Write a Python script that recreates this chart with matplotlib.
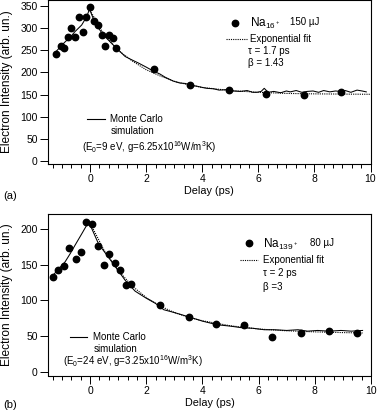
import matplotlib
matplotlib.use("Agg")
import matplotlib.pyplot as plt
from matplotlib.ticker import MultipleLocator

plt.rcParams['font.family'] = ['Liberation Sans', 'DejaVu Sans']
plt.rcParams['mathtext.fontset'] = 'custom'
plt.rcParams['mathtext.rm'] = 'Liberation Sans'
plt.rcParams['mathtext.default'] = 'regular'

# ---- Panel (a): Na16+ ----
a_x = [-1.21, -1.05, -0.93, -0.80, -0.68, -0.54, -0.39, -0.26, -0.14, 0.0,
       0.14, 0.27, 0.42, 0.55, 0.67, 0.81, 0.93, 2.27, 3.57, 4.94, 6.29, 7.62, 8.96]
a_y = [241, 260, 256, 279, 301, 279, 326, 291, 326, 348,
       317, 306, 284, 260, 284, 278, 255, 207, 172, 160, 151, 150, 155]

a_mc_x = [-1.2, -1.0, -0.89, -0.7, -0.54, -0.3, -0.12, -0.02, 0.18, 0.48, 0.89, 1.25,
          1.5, 1.73, 2.0, 2.2, 2.5, 2.68, 2.98, 3.2, 3.4, 3.57, 3.8, 4.0, 4.17, 4.4,
          4.6, 4.88, 5.1, 5.36, 5.6, 5.8, 5.95, 6.1, 6.21, 6.35, 6.55, 6.8, 7.0, 7.14,
          7.35, 7.55, 7.74, 7.95, 8.15, 8.33, 8.55, 8.75, 8.93, 9.1, 9.3, 9.52, 9.7, 9.85]
a_mc_y = [248, 262, 269, 280, 292, 307, 326, 343, 311, 284, 258, 236,
          228, 221, 212, 205, 196, 189, 180, 176, 175, 171, 169, 166, 164, 163,
          160, 161, 158, 157, 159, 155, 155, 157, 164, 155, 157, 154, 158, 156,
          159, 155, 157, 158, 155, 159, 156, 158, 157, 159, 155, 160, 158, 156]

a_fit_x = [0, 0.5, 1, 1.5, 2, 2.5, 3, 3.5, 4, 5, 6, 7, 8, 9, 10]
a_fit_y = [340, 285, 250, 226, 206, 192, 180, 172, 166, 159, 155, 152.5, 151.5, 151, 150.5]

# ---- Panel (b): Na139+ ----
b_x = [-1.33, -1.13, -0.93, -0.74, -0.52, -0.32, -0.13, 0.07, 0.27, 0.48, 0.67,
       0.87, 1.07, 1.27, 1.46, 2.48, 3.51, 4.49, 5.49, 6.49, 7.5, 8.5, 9.5]
b_y = [133, 142, 148, 173, 158, 167, 210, 207, 176, 150, 165,
       153, 143, 122, 123, 94, 77, 67, 66, 49, 54, 57, 55]

b_mc_x = [-1.37, -1.1, -0.89, -0.7, -0.54, -0.3, -0.05, 0.3, 0.77, 1.25, 1.6, 2.0,
          2.32, 2.62, 3.0, 3.51, 4.0, 4.52, 5.0, 5.36, 5.8, 6.2, 6.55, 7.0, 7.4,
          7.74, 8.1, 8.5, 8.93, 9.3, 9.7]
b_mc_y = [133, 145, 154, 166, 177, 193, 210, 179, 154, 128, 113, 103,
          96, 87, 83, 77, 71, 66, 64, 62, 61, 59, 59, 58, 59,
          57, 58, 57, 58, 57, 58]

b_fit_x = [0, 0.5, 1, 1.5, 2, 2.5, 3, 3.5, 4, 5, 6, 7, 8, 9, 9.7]
b_fit_y = [208, 170, 142, 120, 104, 92, 83, 76.5, 71.5, 64.5, 60, 57.5, 56, 55, 54.5]

W, H = 378, 415
fig = plt.figure(figsize=(W / 100, H / 100), dpi=100)
tr = fig.transFigure


def fx(x):
    return x / W


def fy(y):
    return 1 - y / H


def px_axes(left, top, right, bottom):
    return fig.add_axes([left / W, 1 - bottom / H, (right - left) / W, (bottom - top) / H])


def style(ax, ylim, ymajor, left_px):
    ax.set_xlim(-1.5, 10)
    ax.set_ylim(*ylim)
    ax.xaxis.set_major_locator(MultipleLocator(2))
    ax.xaxis.set_minor_locator(MultipleLocator(1 / 3))
    ax.yaxis.set_major_locator(MultipleLocator(ymajor))
    ax.tick_params(axis='both', which='major', direction='out', length=5.8, width=0.7,
                   labelsize=7.5, pad=1.5)
    ax.tick_params(axis='x', which='minor', direction='out', length=2.8, width=0.7)
    ax.tick_params(top=False, right=False)
    for s in ax.spines.values():
        s.set_linewidth(0.8)
    ax.set_xlabel('Delay (ps)', fontsize=7.8, labelpad=1.5)
    ax.set_ylabel('Electron Intensity (arb. un.)', fontsize=8.6)
    # baseline side of the rotated y label a few px from the left edge
    w = ax.get_position().width * W
    ax.yaxis.set_label_coords((13 - left_px) / w, 0.5)


def marker_sample(x, y):
    fig.lines.append(plt.Line2D([fx(x)], [fy(y)], marker='o', color='black', ms=4.6,
                                transform=tr))


def line_sample(x0, x1, y, dotted=False):
    fig.lines.append(plt.Line2D([fx(x0), fx(x1)], [fy(y), fy(y)], color='black', lw=0.8,
                                ls=(0, (1, 1)) if dotted else '-', transform=tr))


FS = 7

# ---- Top panel ----
ax1 = px_axes(48, 0, 370.5, 164)
ax1.plot(a_mc_x, a_mc_y, color='black', lw=0.75)
ax1.plot(a_fit_x, a_fit_y, color='black', lw=0.8, ls=(0, (1, 1)))
ax1.plot(a_x, a_y, 'o', color='black', ms=4.6)
style(ax1, (-7, 363.6), 50, 48)

marker_sample(235, 23)
fig.text(fx(250), fy(23), 'Na$_{16^+}$', fontsize=8.5, va='center', ha='left')
fig.text(fx(290), fy(22), '150 \u00b5J', fontsize=FS, va='center', ha='left')
line_sample(226, 247, 39, dotted=True)
fig.text(fx(250), fy(39), 'Exponential fit', fontsize=FS, va='center', ha='left')
fig.text(fx(248), fy(51.5), '\u03c4 = 1.7 ps', fontsize=FS, va='center', ha='left')
fig.text(fx(248), fy(63.5), '\u03b2 = 1.43', fontsize=FS, va='center', ha='left')

line_sample(87, 105, 119)
fig.text(fx(110), fy(119), 'Monte Carlo', fontsize=FS, va='center', ha='left')
fig.text(fx(133), fy(130.5), 'simulation', fontsize=FS, va='center', ha='center')
fig.text(fx(82), fy(147), '(E$_0$=9 eV, g=6.25x10$^{16}$W/m$^3$K)', fontsize=FS,
         va='center', ha='left')
fig.text(fx(3), fy(196), '(a)', fontsize=8, va='center', ha='left')

# ---- Bottom panel ----
ax2 = px_axes(48, 214.3, 371, 375.5)
ax2.plot(b_mc_x, b_mc_y, color='black', lw=0.75)
ax2.plot(b_fit_x, b_fit_y, color='black', lw=0.8, ls=(0, (1, 1)))
ax2.plot(b_x, b_y, 'o', color='black', ms=4.6)
style(ax2, (-5, 220.4), 50, 48)

marker_sample(249, 243.5)
fig.text(fx(263), fy(244), 'Na$_{139^+}$', fontsize=8.5, va='center', ha='left')
fig.text(fx(310), fy(243), '80 \u00b5J', fontsize=FS, va='center', ha='left')
line_sample(240, 258, 260, dotted=True)
fig.text(fx(263), fy(260), 'Exponential fit', fontsize=FS, va='center', ha='left')
fig.text(fx(263), fy(273), '\u03c4 = 2 ps', fontsize=FS, va='center', ha='left')
fig.text(fx(263), fy(286.5), '\u03b2 =3', fontsize=FS, va='center', ha='left')

line_sample(70, 87, 337)
fig.text(fx(93), fy(337), 'Monte Carlo', fontsize=FS, va='center', ha='left')
fig.text(fx(116), fy(349), 'simulation', fontsize=FS, va='center', ha='center')
fig.text(fx(63), fy(361.5), '(E$_0$=24 eV, g=3.25x10$^{16}$W/m$^3$K)', fontsize=FS,
         va='center', ha='left')
fig.text(fx(3), fy(405), '(b)', fontsize=8, va='center', ha='left')

fig.savefig('out.png', dpi=100)
